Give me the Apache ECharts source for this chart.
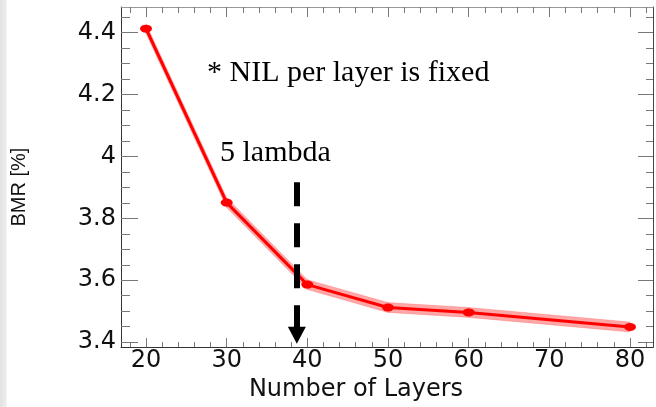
<!DOCTYPE html>
<html>
<head>
<meta charset="utf-8">
<script src="https://cdn.jsdelivr.net/npm/echarts@6/dist/echarts.min.js"></script>
<style>
html,body{margin:0;padding:0;background:#fff;}
#chart{position:absolute;left:0;top:0;width:656px;height:407px;}
#strip{position:absolute;left:0;top:0;width:7px;height:407px;background:linear-gradient(to right,#e2e2e2,#ececec 80%,#f6f6f6);z-index:5;}
</style>
</head>
<body>
<div id="chart"></div>
<div id="strip"></div>
<script>
// ---- data ----
var layers = [20, 30, 40, 50, 60, 80];
var bmr = [4.413, 3.851, 3.586, 3.512, 3.496, 3.449];
var bandLow = [4.397, 3.835, 3.570, 3.496, 3.480, 3.433];
var bandHigh = [4.429, 3.867, 3.602, 3.528, 3.512, 3.465];
var xTicks = [20, 30, 40, 50, 60, 70, 80];
var yTicks = [3.4, 3.6, 3.8, 4, 4.2, 4.4];
var arrowX = 38.7;
var arrowFrom = 3.917;
var arrowTo = 3.422;
var note1 = '* NIL per layer is fixed';
var note2 = '5 lambda';
var xTitle = 'Number of Layers';
var yTitle = 'BMR [%]';

var xMin = 16.9, xMax = 82.85, yMin = 3.384, yMax = 4.483;
var xMinor = [], yMinor = [];
for (var i = 0; i <= 33; i++) { var v = 16 + 2 * i; if (v > xMin && v < xMax) xMinor.push(v); }
for (var j = 0; j <= 22; j++) { var w = Math.round((3.35 + 0.05 * j) * 1000) / 1000; if (w > yMin && w < yMax) yMinor.push(w); }

var chart = echarts.init(document.getElementById('chart'), null, {renderer: 'canvas'});

function xAx(pos, vals, len, showLine, showLabel, lineColor, extra) {
  var a = {
    type: 'value', position: pos, min: xMin, max: xMax,
    splitLine: {show: false},
    axisLine: {show: showLine, onZero: false, lineStyle: {color: lineColor, width: 1}},
    axisTick: {show: true, inside: true, length: len, customValues: vals, lineStyle: {color: '#777', width: 1}},
    axisLabel: {show: showLabel, customValues: vals, margin: 2, color: '#111', fontFamily: 'DejaVu Sans', fontSize: 24}
  };
  for (var k in extra) a[k] = extra[k];
  return a;
}
function yAx(pos, vals, len, showLine, showLabel, lineColor, extra) {
  var a = {
    type: 'value', position: pos, min: yMin, max: yMax,
    splitLine: {show: false},
    axisLine: {show: showLine, onZero: false, lineStyle: {color: lineColor, width: 1}},
    axisTick: {show: true, inside: true, length: len, customValues: vals, lineStyle: {color: '#777', width: 1}},
    axisLabel: {show: showLabel, customValues: vals, margin: 5, color: '#111', fontFamily: 'DejaVu Sans', fontSize: 24}
  };
  for (var k in extra) a[k] = extra[k];
  return a;
}

var bandData = layers.map(function (x, i) { return [x, bandLow[i], bandHigh[i]]; });

var option = {
  animation: false,
  backgroundColor: '#fff',
  grid: {left: 121, right: 3, top: 7, bottom: 54, containLabel: false},
  xAxis: [
    xAx('bottom', xTicks, 9, true, true, '#333', {
      name: xTitle, nameLocation: 'middle', nameGap: 28,
      nameTextStyle: {fontFamily: 'DejaVu Sans', fontSize: 24, color: '#111', padding: [0, 62, 0, 0]}
    }),
    xAx('bottom', xMinor, 5, false, false, '#333', {}),
    xAx('top', xTicks, 10, true, false, '#999', {}),
    xAx('top', xMinor, 6, false, false, '#999', {})
  ],
  yAxis: [
    yAx('left', yTicks, 17, true, true, '#333', {
      name: yTitle, nameLocation: 'middle', nameGap: 92, nameRotate: 90,
      nameTextStyle: {fontFamily: 'Liberation Sans', fontSize: 20, color: '#111', padding: [0, 20, 0, 0]}
    }),
    yAx('left', yMinor, 9, false, false, '#333', {}),
    yAx('right', yTicks, 15, true, false, '#444', {}),
    yAx('right', yMinor, 7, false, false, '#444', {})
  ],
  series: [
    {
      type: 'custom', name: 'band', xAxisIndex: 0, yAxisIndex: 0, silent: true, z: 1,
      data: bandData,
      encode: {x: 0, y: [1, 2]},
      renderItem: function (params, api) {
        var i = params.dataIndex;
        if (i >= bandData.length - 1) return null;
        var a = bandData[i], b = bandData[i + 1];
        var pts = [
          api.coord([a[0], a[2]]), api.coord([b[0], b[2]]),
          api.coord([b[0], b[1]]), api.coord([a[0], a[1]])
        ];
        return {type: 'polygon', shape: {points: pts},
                style: {fill: 'rgba(255,60,60,0.45)', stroke: 'rgba(255,60,60,0.45)', lineWidth: 0.5}};
      }
    },
    {
      type: 'line', name: 'BMR', xAxisIndex: 0, yAxisIndex: 0,
      data: layers.map(function (x, i) { return [x, bmr[i]]; }),
      symbol: 'circle', symbolSize: [12, 8], showSymbol: true,
      itemStyle: {color: '#ff0000'},
      lineStyle: {color: '#ff0000', width: 3},
      z: 3,
      markLine: {
        silent: true, animation: false,
        symbol: ['none', 'triangle'], symbolSize: [18, 17],
        label: {show: false},
        lineStyle: {color: '#000', width: 6, type: [24, 17], opacity: 1},
        data: [[{coord: [arrowX, arrowFrom]}, {coord: [arrowX, arrowTo]}]]
      }
    }
  ],
  graphic: [
    {type: 'text', left: 207, top: 58, silent: true,
     style: {text: note1, fontFamily: 'Liberation Serif', fontSize: 30, fill: '#000'}},
    {type: 'text', left: 220, top: 138, silent: true,
     style: {text: note2, fontFamily: 'Liberation Serif', fontSize: 30, fill: '#000'}}
  ]
};
chart.setOption(option);
</script>
</body>
</html>
